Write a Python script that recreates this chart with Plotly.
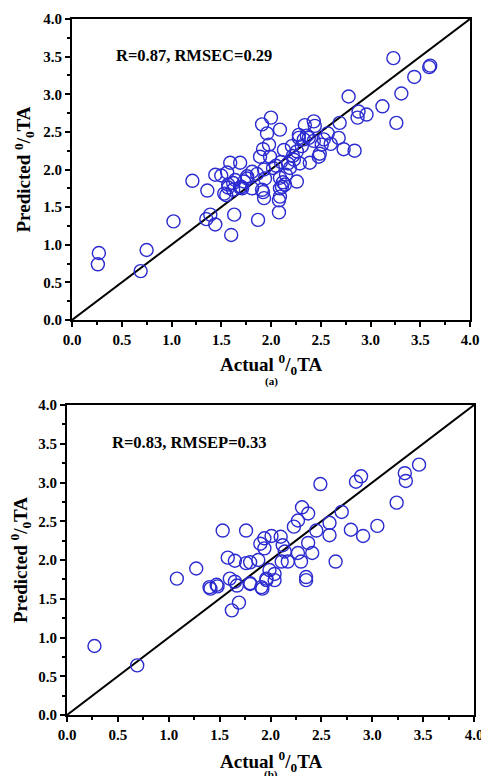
import plotly.graph_objects as go

# ---- data: panel (a) calibration ----
a_actual = [3.23, 3.60, 3.59, 3.44, 3.31, 3.26, 3.12, 2.78, 2.88, 2.87, 2.96, 2.84, 2.73, 2.68,
            2.69, 2.57, 2.60, 2.51, 2.49, 2.48, 2.43, 2.44, 2.34, 2.28, 2.28, 2.31, 2.38, 2.43,
            2.39, 2.29, 2.23, 2.21, 2.26, 2.19, 2.15, 2.12, 2.09, 2.13, 2.09, 2.00, 1.96, 1.91,
            1.98, 1.89, 1.99, 2.02, 1.93, 1.86, 1.81, 1.76, 1.73, 1.69, 1.59, 1.56, 1.50, 1.44,
            1.62, 1.57, 1.71, 1.36, 1.21, 1.92, 2.26, 2.17, 1.94, 2.09, 2.11, 1.64, 1.76, 1.70,
            1.62, 1.53, 1.92, 0.27, 0.26, 0.75, 0.69, 1.02, 1.35, 1.39, 1.44, 1.55, 1.63, 1.60,
            1.57, 1.69, 1.81, 1.91, 1.93, 1.87, 2.08, 2.08, 2.09, 2.14, 2.05, 2.10, 2.22, 2.33,
            2.36, 2.53]
a_pred = [3.48, 3.38, 3.36, 3.23, 3.01, 2.62, 2.84, 2.97, 2.77, 2.69, 2.73, 2.25, 2.27, 2.42,
          2.62, 2.48, 2.34, 2.33, 2.21, 2.17, 2.64, 2.58, 2.59, 2.46, 2.42, 2.31, 2.42, 2.38,
          2.09, 2.08, 2.13, 2.31, 1.84, 2.02, 1.93, 1.83, 1.64, 2.26, 2.53, 2.69, 2.48, 2.60,
          2.33, 2.17, 2.17, 2.02, 2.00, 1.94, 1.97, 1.91, 1.84, 2.09, 2.09, 1.96, 1.92, 1.93,
          1.82, 1.80, 1.75, 1.72, 1.85, 2.27, 2.24, 2.08, 1.88, 1.89, 1.77, 1.86, 1.88, 1.77,
          1.73, 1.68, 1.70, 0.89, 0.74, 0.93, 0.65, 1.31, 1.34, 1.40, 1.27, 1.66, 1.40, 1.13,
          1.76, 1.76, 1.75, 1.73, 1.62, 1.33, 1.59, 1.43, 1.75, 1.80, 2.05, 2.10, 2.18, 2.40,
          2.45, 2.40]

# ---- data: panel (b) prediction ----
b_actual = [3.46, 3.32, 3.33, 3.24, 3.05, 2.89, 2.84, 2.91, 2.79, 2.70, 2.58, 2.58, 2.64, 2.49,
            2.45, 2.37, 2.41, 2.35, 2.37, 2.31, 2.27, 2.23, 2.27, 2.30, 2.17, 2.11, 2.14, 2.12,
            2.10, 2.01, 1.94, 1.90, 1.94, 1.99, 2.04, 1.96, 1.88, 1.80, 1.76, 1.76, 1.53, 1.58,
            1.65, 1.27, 1.08, 1.60, 1.65, 1.80, 1.91, 1.47, 1.40, 0.27, 0.69, 1.41, 1.48, 1.62,
            1.69, 1.67, 1.80, 1.92, 1.96, 2.04, 2.35]
b_pred = [3.23, 3.12, 3.02, 2.74, 2.44, 3.08, 3.01, 2.31, 2.39, 2.62, 2.48, 2.32, 1.98, 2.98,
          2.38, 2.22, 2.09, 1.78, 2.60, 2.68, 2.51, 2.43, 2.09, 1.98, 1.98, 1.98, 2.11, 2.19,
          2.30, 2.31, 2.15, 2.21, 2.28, 1.87, 1.82, 1.76, 2.00, 1.97, 1.96, 2.38, 2.38, 2.03,
          1.99, 1.89, 1.76, 1.76, 1.72, 1.70, 1.65, 1.68, 1.65, 0.89, 0.64, 1.63, 1.66, 1.35,
          1.45, 1.67, 1.69, 1.63, 1.74, 1.74, 1.74]

line_xy = [0, 4]
tick_vals = [0.0, 0.5, 1.0, 1.5, 2.0, 2.5, 3.0, 3.5, 4.0]
tick_text = ["0.0", "0.5", "1.0", "1.5", "2.0", "2.5", "3.0", "3.5", "4.0"]
stats_a = "R=0.87, RMSEC=0.29"
stats_b = "R=0.83, RMSEP=0.33"
x_title = "Actual <sup>0</sup>/<sub>0</sub>TA"
y_title = "Predicted <sup>0</sup>/<sub>0</sub>TA"

W, H = 481, 776
FONT = "Liberation Serif"
BLUE = "#2b2bd0"

fig = go.Figure()

panels = [
    dict(x=a_actual, y=a_pred, xa="x", ya="y", xd=[72 / W, 470 / W], yd=[1 - 320 / H, 1 - 19 / H],
         stats=stats_a, tag="(a)", ylab_x=24, xlab_y=364, tag_y=381),
    dict(x=b_actual, y=b_pred, xa="x2", ya="y2", xd=[67 / W, 474 / W], yd=[1 - 715 / H, 1 - 405 / H],
         stats=stats_b, tag="(b)", ylab_x=20, xlab_y=761, tag_y=774),
]

for i, p in enumerate(panels):
    fig.add_trace(go.Scatter(x=line_xy, y=line_xy, mode="lines", xaxis=p["xa"], yaxis=p["ya"],
                             line=dict(color="black", width=2), showlegend=False, hoverinfo="skip"))
    fig.add_trace(go.Scatter(x=p["x"], y=p["y"], mode="markers", xaxis=p["xa"], yaxis=p["ya"],
                             marker=dict(symbol="circle-open", size=13, color=BLUE,
                                         line=dict(width=1.4, color=BLUE)),
                             showlegend=False))
    sfx = "" if i == 0 else "2"
    axcommon = dict(range=[0, 4], tickvals=tick_vals, ticktext=tick_text, ticks="outside",
                    ticklen=5, tickwidth=1.5, tickcolor="black", showline=True, linecolor="black",
                    linewidth=2, mirror=True, showgrid=False, zeroline=False, automargin=False,
                    ticklabeloverflow="allow",
                    tickfont=dict(family=FONT, size=15, color="black", weight="bold"),
                    minor=dict(ticks="outside", ticklen=3, tickwidth=1.5, tickcolor="black",
                               dtick=0.25, tick0=0, showgrid=False))
    fig.layout["xaxis" + sfx] = dict(domain=p["xd"], anchor="y" + sfx, **axcommon)
    fig.layout["yaxis" + sfx] = dict(domain=p["yd"], anchor="x" + sfx, **axcommon)

    xc = (p["xd"][0] + p["xd"][1]) / 2
    yc = (p["yd"][0] + p["yd"][1]) / 2
    fig.add_annotation(text=p["stats"], xref="x" + sfx, yref="y" + sfx, x=0.42, y=3.52,
                       xanchor="left", yanchor="middle", showarrow=False,
                       font=dict(family=FONT, size=16.5, color="black", weight="bold"))
    fig.add_annotation(text=x_title, xref="paper", yref="paper", x=xc, y=1 - p["xlab_y"] / H,
                       xanchor="center", yanchor="middle", showarrow=False,
                       font=dict(family=FONT, size=19, color="black", weight="bold"))
    fig.add_annotation(text=p["tag"], xref="paper", yref="paper", x=xc, y=1 - p["tag_y"] / H,
                       xanchor="center", yanchor="middle", showarrow=False,
                       font=dict(family=FONT, size=11, color="black", weight="bold"))
    fig.add_annotation(text=y_title, xref="paper", yref="paper", x=p["ylab_x"] / W, y=yc,
                       xanchor="center", yanchor="middle", textangle=-90, showarrow=False,
                       font=dict(family=FONT, size=19, color="black", weight="bold"))

fig.update_layout(width=W, height=H, margin=dict(l=0, r=0, t=0, b=0),
                  paper_bgcolor="white", plot_bgcolor="white")

fig.write_html("out.html", config={"displayModeBar": False},
               post_script="document.body.style.margin='0';")
